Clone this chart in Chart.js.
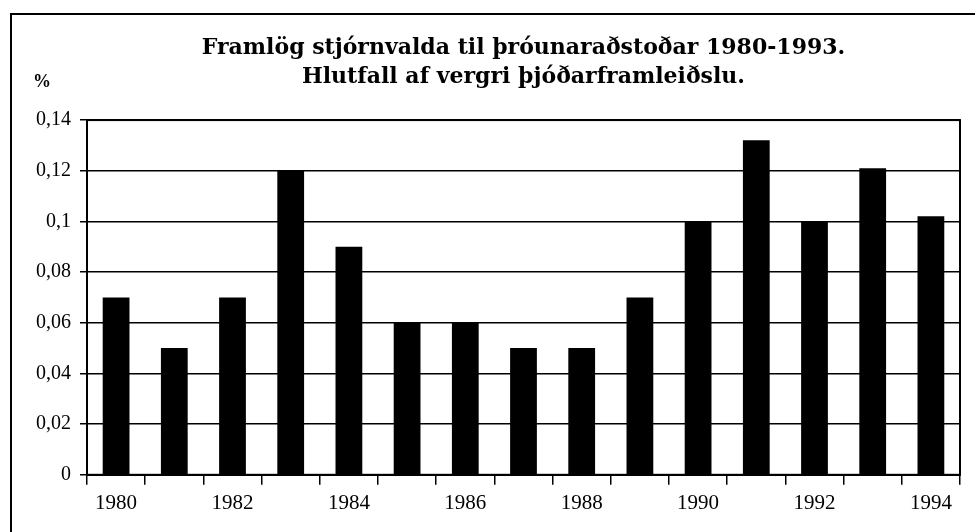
<!DOCTYPE html>
<html>
<head>
<meta charset="utf-8">
<script src="https://cdn.jsdelivr.net/npm/chart.js@4"></script>
<style>
  body { margin: 0; background: #fff; }
  #wrap { position: relative; width: 975px; height: 532px; overflow: hidden; }
  #frame { position: absolute; left: 10px; top: 13px; width: 1000px; height: 600px; border: 2px solid #000; pointer-events: none; }
</style>
</head>
<body>
<div id="wrap">
  <canvas id="aidChart" width="975" height="532"></canvas>
  <div id="frame"></div>
</div>
<script>
// Years and share of GDP (%)
const years = ['1980', '1981', '1982', '1983', '1984', '1985', '1986', '1987',
               '1988', '1989', '1990', '1991', '1992', '1993', '1994'];
const aidShare = [0.07, 0.05, 0.07, 0.12, 0.09, 0.06, 0.06, 0.05,
                  0.05, 0.07, 0.10, 0.132, 0.10, 0.121, 0.102];
const yTicks = [0, 0.02, 0.04, 0.06, 0.08, 0.1, 0.12, 0.14];
const titleLines = ['Framlög stjórnvalda til þróunaraðstoðar 1980-1993.',
                    'Hlutfall af vergri þjóðarframleiðslu.'];
const unitLabel = '%';

const serif = "'Liberation Serif', 'DejaVu Serif', serif";

// plot frame + unit label
const extras = {
  id: 'extras',
  afterDraw(chart) {
    const { ctx, chartArea: a } = chart;
    ctx.save();
    ctx.strokeStyle = '#000';
    ctx.lineWidth = 2;
    ctx.strokeRect(a.left, a.top, a.right - a.left, a.bottom - a.top);
    ctx.fillStyle = '#000';
    ctx.font = 'bold 18px ' + serif;
    ctx.textAlign = 'center';
    ctx.textBaseline = 'middle';
    ctx.fillText(unitLabel, 42, 82);
    ctx.restore();
  }
};

const ctx = document.getElementById('aidChart').getContext('2d');
new Chart(ctx, {
  type: 'bar',
  data: {
    labels: years,
    datasets: [{
      data: aidShare,
      backgroundColor: '#000',
      borderWidth: 0,
      barPercentage: 0.46,
      categoryPercentage: 1
    }]
  },
  options: {
    responsive: false,
    animation: false,
    layout: { padding: { left: 27, right: 15, top: 14, bottom: 10 } },
    plugins: {
      legend: { display: false },
      tooltip: { enabled: false },
      title: {
        display: true,
        text: titleLines,
        fullSize: false,
        color: '#000',
        font: { family: "'DejaVu Serif', serif", size: 22, weight: 'bold', lineHeight: 1.32 },
        padding: { top: 20, bottom: 28 }
      }
    },
    scales: {
      x: {
        offset: true,
        grid: {
          offset: true,
          drawOnChartArea: false,
          color: '#000',
          lineWidth: 1.5,
          tickLength: 10
        },
        border: { color: '#000', width: 2 },
        ticks: {
          autoSkip: false,
          maxRotation: 0,
          color: '#000',
          padding: 6,
          font: { family: serif, size: 21 },
          callback: (v, i) => (i % 2 === 0 ? years[i] : '')
        }
      },
      y: {
        min: 0,
        max: 0.14,
        afterBuildTicks: axis => { axis.ticks = yTicks.map(v => ({ value: v })); },
        grid: { color: '#000', lineWidth: 1.5, tickLength: 7 },
        border: { color: '#000', width: 2 },
        ticks: {
          color: '#000',
          padding: 9,
          font: { family: serif, size: 20 },
          callback: v => String(+v.toFixed(2)).replace('.', ',')
        }
      }
    }
  },
  plugins: [extras]
});
</script>
</body>
</html>
